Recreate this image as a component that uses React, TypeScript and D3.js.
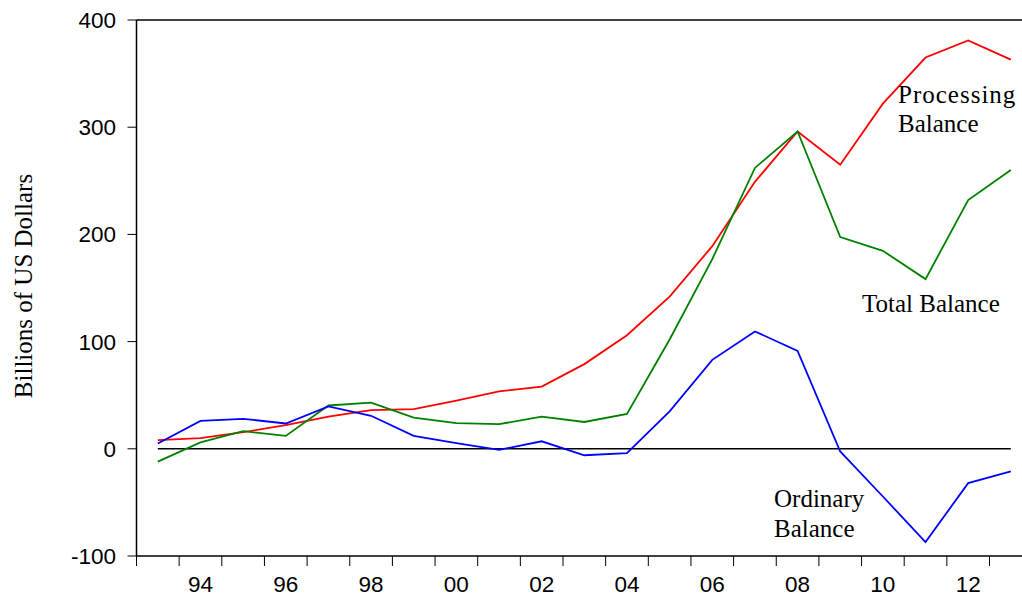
import React from "react";
import * as d3 from "d3";

const years = [1993,1994,1995,1996,1997,1998,1999,2000,2001,2002,2003,2004,2005,2006,2007,2008,2009,2010,2011,2012,2013];
const processing = [8,10,15.5,22,30,36,37,45,53.5,58,79,106,142,189,249,296,265,322,365,381,363];
const total = [-12,6,16.5,12,40.4,43,29,24,23,30,25,32.6,102,177,262,296,197.5,184.7,158.3,232,260];
const ordinary = [5,26,28,23.6,39.5,30.8,12,5.3,-1,7,-6,-4,35,83,109.5,91.4,-2.5,-44.5,-87,-32,-21];
const yTicks = [-100,0,100,200,300,400];
const xLabels = [1994,1996,1998,2000,2002,2004,2006,2008,2010,2012];

const W = 1022, H = 602;
const left = 136.5, top = 20, bottom = 556;

export default function App() {
  const x = d3.scaleLinear().domain([1992.5, 2013.5]).range([left, left + 21 * 42.65]);
  const y = d3.scaleLinear().domain([-100, 400]).range([bottom, top]);
  const line = d3.line<number>().x((_, i) => x(years[i])).y(d => y(d));
  const boundaries = d3.range(1992.5, 2013.5, 1).filter(b => x(b) <= W);
  const sans = "'Liberation Sans', Arial, sans-serif";
  const serif = "'Liberation Serif', 'Times New Roman', serif";
  const series = [
    { v: processing, c: "#ff0000" },
    { v: total, c: "#008000" },
    { v: ordinary, c: "#0000ff" },
  ];
  return (
    <svg width={W} height={H} style={{ position: "fixed", left: 0, top: 0, background: "#fff" }}>
      {/* frame */}
      <line x1={left} x2={W} y1={top} y2={top} stroke="#000" strokeWidth={1.5} />
      <line x1={left} x2={left} y1={top} y2={bottom} stroke="#000" strokeWidth={1.5} />
      <line x1={left} x2={W} y1={bottom} y2={bottom} stroke="#000" strokeWidth={1.5} />
      {/* y ticks */}
      {yTicks.map(t => (
        <g key={t}>
          <line x1={left - 9} x2={left} y1={y(t)} y2={y(t)} stroke="#000" strokeWidth={1} />
          <text x={116} y={y(t) + 8} textAnchor="end" fontFamily={sans} fontSize={22.5} fill="#000">{t}</text>
        </g>
      ))}
      {/* x ticks */}
      {boundaries.map(b => (
        <line key={b} x1={x(b)} x2={x(b)} y1={bottom} y2={bottom + 10} stroke="#000" strokeWidth={1} />
      ))}
      {xLabels.map(yr => (
        <text key={yr} x={x(yr)} y={592} textAnchor="middle" fontFamily={sans} fontSize={22.5} fill="#000">
          {String(yr % 100).padStart(2, "0")}
        </text>
      ))}
      {/* y axis title */}
      <text transform={`translate(32,286) rotate(-90)`} textAnchor="middle" fontFamily={serif} fontSize={25} fill="#000">
        Billions of US Dollars
      </text>
      {/* zero line */}
      <line x1={x(years[0])} x2={x(years[years.length - 1])} y1={y(0)} y2={y(0)} stroke="#000" strokeWidth={1.5} />
      {series.map((s, i) => (
        <path key={i} d={line(s.v) || ""} fill="none" stroke={s.c} strokeWidth={1.8} />
      ))}
      {/* annotations */}
      <text fontFamily={serif} fontSize={25} fill="#000">
        <tspan x={898} y={103} letterSpacing={1}>Processing</tspan>
        <tspan x={898} y={132}>Balance</tspan>
      </text>
      <text x={862} y={312} fontFamily={serif} fontSize={25} fill="#000">Total Balance</text>
      <text fontFamily={serif} fontSize={25} fill="#000">
        <tspan x={774} y={507}>Ordinary</tspan>
        <tspan x={774} y={537}>Balance</tspan>
      </text>
    </svg>
  );
}
